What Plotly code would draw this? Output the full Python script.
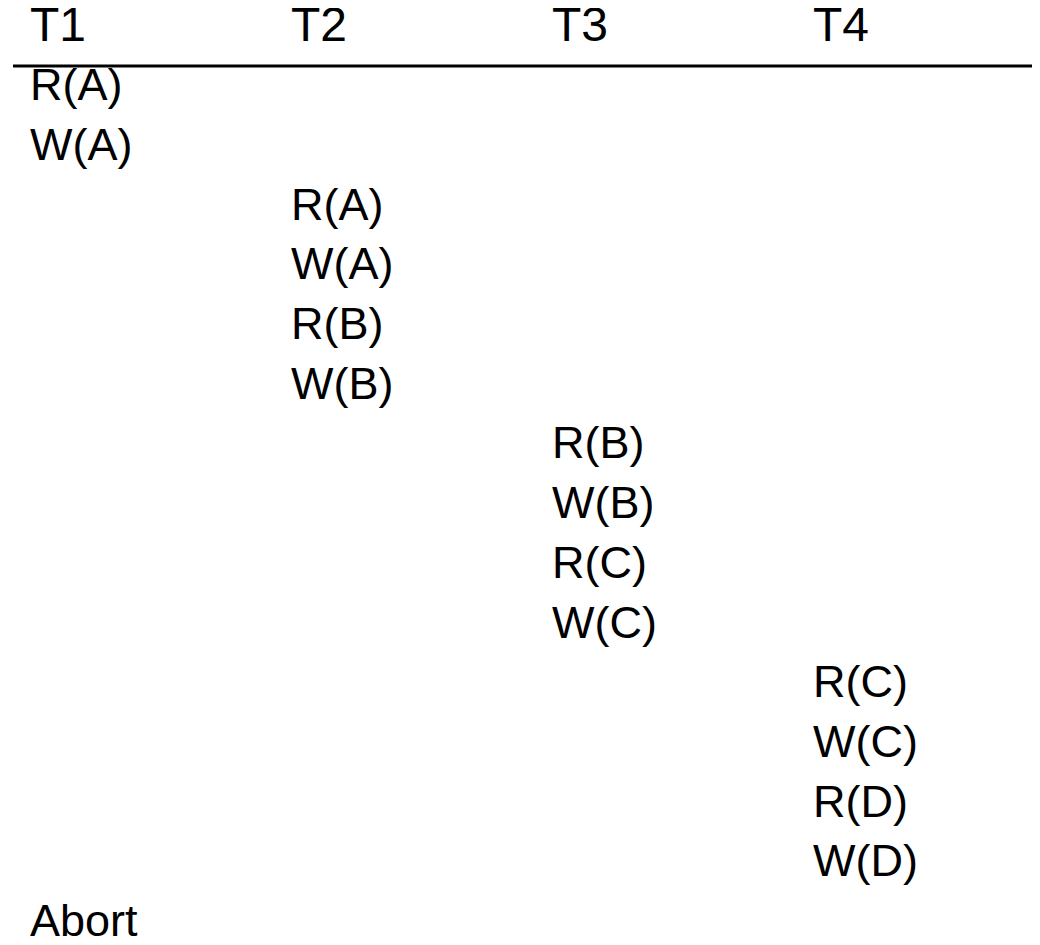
import plotly.graph_objects as go

# Transaction headers (columns)
transactions = ["T1", "T2", "T3", "T4"]

# Schedule: operation text, transaction column index, time step (row)
operations = ["R(A)", "W(A)", "R(A)", "W(A)", "R(B)", "W(B)",
              "R(B)", "W(B)", "R(C)", "W(C)",
              "R(C)", "W(C)", "R(D)", "W(D)", "Abort"]
op_txn = [0, 0, 1, 1, 1, 1, 2, 2, 2, 2, 3, 3, 3, 3, 0]
op_step = list(range(len(operations)))

FONT = "Liberation Sans, Arial, sans-serif"
PAGE_MARGIN = 8  # default body margin of the html page
W, H = 1040 - PAGE_MARGIN, 945 - 2 * PAGE_MARGIN
col_left_px = 32 - PAGE_MARGIN - 2
col_pitch_px = 261
row0_px = 89 - PAGE_MARGIN
row_pitch_px = 59.7

x0 = -col_left_px / col_pitch_px
x1 = x0 + W / col_pitch_px
y_top = -row0_px / row_pitch_px
y_bot = y_top + H / row_pitch_px

fig = go.Figure()

# Header row
fig.add_trace(go.Scatter(
    x=list(range(len(transactions))), y=[-1] * len(transactions),
    text=transactions, mode="text", textposition="middle right",
    textfont=dict(family=FONT, size=48, color="black"),
    hoverinfo="skip", showlegend=False, cliponaxis=False,
))

# Operations
fig.add_trace(go.Scatter(
    x=op_txn, y=op_step, text=operations, mode="text",
    textposition="middle right",
    textfont=dict(family=FONT, size=45, color="black"),
    hoverinfo="skip", showlegend=False, cliponaxis=False,
))

# Header rule
rule_y = (66 - PAGE_MARGIN - row0_px) / row_pitch_px
fig.add_shape(type="line", xref="paper", yref="y",
              x0=(13 - PAGE_MARGIN) / W, x1=1.02, y0=rule_y, y1=rule_y,
              line=dict(color="black", width=3))

fig.update_layout(
    width=W, height=H,
    margin=dict(l=0, r=0, t=0, b=0),
    paper_bgcolor="white", plot_bgcolor="white",
    xaxis=dict(range=[x0, x1], visible=False, fixedrange=True),
    yaxis=dict(range=[y_bot, y_top], visible=False, fixedrange=True),
    showlegend=False,
)

fig.write_html("out.html")
